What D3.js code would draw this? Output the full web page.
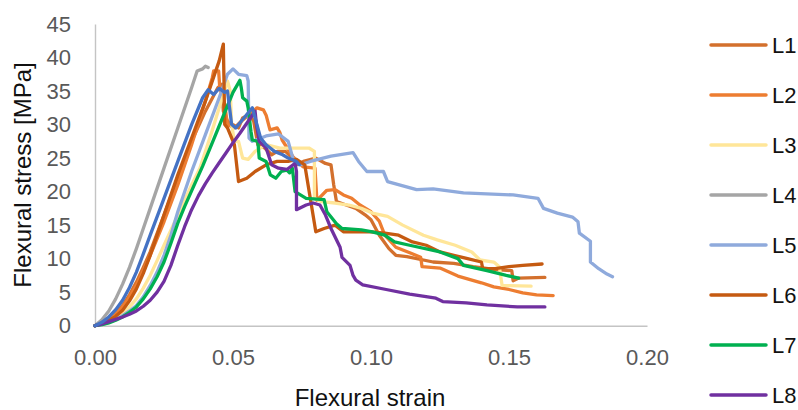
<!DOCTYPE html>
<html lang="en">
<head>
<meta charset="UTF-8">
<title>Flexural stress-strain</title>
<style>
  body { margin: 0; background: #fff; }
  svg { display: block; font-family: "Liberation Sans", Arial, sans-serif; }
  .tick text { fill: #595959; font-size: 22px; }
  .axis path.domain { stroke: #c4c4c4; stroke-width: 1.4; }
  .curve { fill: none; stroke-width: 3.3; stroke-linejoin: round; stroke-linecap: round; }
</style>
</head>
<body>
<div id="chart"></div>
<script src="https://d3js.org/d3.v7.min.js"></script>
<script>
// tick values
const strainTicks = [0, 0.05, 0.10, 0.15, 0.20];
const stressTicks = [0, 5, 10, 15, 20, 25, 30, 35, 40, 45];

// series [strain, stress MPa]
const L1 = [[0,0],[0.0025,0.3],[0.005,1],[0.0075,1.8],[0.01,3],[0.0125,4.6],[0.015,6.5],[0.0175,8.7],[0.02,11],[0.025,16.5],
  [0.03,22],[0.035,27.5],[0.04,32],[0.0445,35.5],[0.046,36],
  [0.0465,32],[0.048,30.5],[0.050,30],[0.052,29.5],[0.0535,31],[0.056,31.5],[0.0575,30.5],[0.059,27],[0.0615,26.5],[0.064,25.5],
  [0.066,26],[0.069,26],[0.0715,25],[0.073,24],[0.0755,24.5],[0.080,25],[0.0835,24.2],[0.0855,24],[0.0865,21],[0.0875,18.5],
  [0.091,18],[0.0945,17.5],[0.098,16.5],[0.1,15.8],[0.103,13.5],[0.1065,11.5],[0.109,10.5],[0.113,10.3],[0.1225,9.5],[0.13,9.3],
  [0.137,8.8],[0.1445,8.4],[0.148,8.3],[0.151,8.2],[0.1515,6.7],[0.1535,7.1],[0.163,7.2]];
const L2 = [[0,0],[0.0025,0.3],[0.005,0.9],[0.0075,1.7],[0.01,2.8],[0.0125,4.3],[0.015,6],[0.0175,8.2],[0.02,10.5],[0.025,15.5],
  [0.03,21],[0.035,27],[0.04,33.5],[0.0425,37],[0.043,38],
  [0.0448,38],[0.0452,35.5],[0.047,33],[0.048,30],[0.0505,29.5],[0.053,30.5],[0.056,31.5],[0.0587,32.5],[0.061,32.2],[0.062,31.4],
  [0.0634,29.2],[0.066,29.5],[0.067,28.8],[0.0678,27.7],[0.0717,25.2],[0.0754,23.7],[0.0797,23.5],[0.0804,18.7],[0.084,20.2],
  [0.087,20.3],[0.09,19.5],[0.093,19],[0.096,18],[0.1,17],[0.103,15.6],[0.105,13.5],[0.109,11.7],[0.1145,10.8],[0.118,10.2],
  [0.1185,8.8],[0.125,8.6],[0.1315,7.4],[0.14,6.4],[0.1445,5.8],[0.15,5.4],[0.155,4.9],[0.16,4.6],[0.166,4.5]];
const L3 = [[0,0],[0.0025,0.15],[0.005,0.5],[0.0075,1.1],[0.01,1.8],[0.0125,2.8],[0.015,4],[0.0175,5.6],[0.02,7.5],[0.0225,9.7],
  [0.025,12],[0.03,16.5],[0.035,21],[0.038,23.5],[0.042,28.5],[0.045,32.5],
  [0.048,36.5],[0.049,35],[0.0495,30],[0.0505,27.5],[0.052,27.5],[0.0535,25],[0.0555,24.8],[0.058,26],[0.062,27],[0.067,26.5],
  [0.072,26.5],[0.0775,26.5],[0.0795,26],[0.0795,19],[0.082,18.5],[0.087,18.3],[0.092,18],[0.0965,17.5],[0.1005,16.8],[0.106,16.3],
  [0.1115,15],[0.119,13.5],[0.124,12.8],[0.1305,12],[0.1365,11],[0.1395,9.8],[0.1445,9.5],[0.1465,8.8],[0.1475,6],[0.158,5.9]];
const L4 = [[0,0],[0.0025,0.9],[0.005,2.2],[0.0075,4],[0.01,6.2],[0.0125,8.7],[0.015,11.5],[0.0175,14.5],[0.02,17.5],[0.025,23.5],
  [0.03,29.5],[0.035,35.5],[0.037,38],[0.039,38.3],[0.040,38.7],[0.041,38.5]];
const L5 = [[0,0],[0.0025,0.15],[0.005,0.5],[0.0075,0.9],[0.01,1.5],[0.0125,2.2],[0.015,3],[0.0175,4.3],[0.02,6],[0.0225,8],
  [0.025,10.5],[0.0275,13.5],[0.03,17],[0.035,23],[0.04,28.5],[0.045,34],[0.048,37.5],
  [0.050,38.3],[0.052,37.5],[0.055,37.3],[0.0555,36.5],[0.0558,28],[0.057,27.5],[0.062,28.3],[0.0665,28.6],[0.070,27.5],[0.072,24.5],
  [0.0745,24],[0.078,24.5],[0.0855,25.3],[0.0935,25.8],[0.0955,24.5],[0.0985,23],[0.1045,23],[0.106,21.5],[0.1165,20.3],
  [0.1225,20.4],[0.1335,19.8],[0.1515,19.5],[0.1605,19],[0.1625,17.5],[0.1675,16.8],[0.173,16.2],[0.175,15.5],[0.1755,13.8],
  [0.1795,12.6],[0.1795,9.5],[0.1825,8.5],[0.1855,7.7],[0.1875,7.3]];
const L6 = [[0,0],[0.0025,0.3],[0.005,0.8],[0.0075,1.4],[0.01,2.3],[0.0125,3.7],[0.015,5.5],[0.0175,7.8],[0.02,10.5],[0.0225,13.5],
  [0.025,16.5],[0.03,22.5],[0.035,28],[0.04,33.5],[0.045,39.5],
  [0.0465,42],[0.047,30],[0.048,29.5],[0.0505,27],[0.052,21.5],[0.055,22],[0.058,23],[0.062,24],[0.066,24.5],[0.070,24.5],
  [0.073,24.8],[0.076,24],[0.078,19],[0.080,14],[0.083,14.5],[0.087,15],[0.09,14],[0.095,14],[0.1,14],[0.105,13.8],[0.11,13.5],
  [0.115,12.5],[0.12,12],[0.125,11],[0.13,10.5],[0.135,10],[0.14,9.5],[0.1405,8.5],[0.145,8.5],[0.15,8.8],[0.155,9],[0.162,9.2]];
const L7 = [[0,0],[0.0025,0.15],[0.005,0.4],[0.0075,0.8],[0.01,1.3],[0.0125,2],[0.015,2.8],[0.0175,4],[0.02,5.5],[0.0225,7.3],
  [0.025,9.5],[0.0275,12.3],[0.03,15.3],[0.0325,17.8],[0.035,20.1],[0.039,23.8],[0.043,27.8],[0.047,31.8],
  [0.050,34.8],[0.0525,36.6],[0.053,35.5],[0.0535,34],[0.055,33.5],[0.0555,32.5],[0.0565,29],[0.057,27.7],[0.059,27.5],[0.0595,25],
  [0.062,24.5],[0.0635,22.5],[0.0655,22],[0.0675,23],[0.0695,23.2],[0.0705,22.8],[0.0715,23.5],[0.0725,20],[0.0765,19],[0.083,18.8],
  [0.084,17],[0.0875,15.2],[0.0895,14.5],[0.0965,14.3],[0.1005,14],[0.105,13.5],[0.1085,12.5],[0.114,12],[0.125,11],[0.1315,10],
  [0.1335,9],[0.142,8.2],[0.149,7.5],[0.1535,7.1]];
const L8 = [[0,0],[0.0025,0.25],[0.005,0.6],[0.0075,0.95],[0.01,1.3],[0.0125,1.7],[0.015,2.2],[0.0175,2.9],[0.02,3.8],[0.0225,5],
  [0.025,6.6],[0.0275,9],[0.03,12],[0.0325,14.8],[0.035,17.3],[0.0375,19.4],[0.040,21.2],[0.0425,22.8],[0.045,24.3],[0.0475,25.8],
  [0.050,27.3],[0.0525,28.7],[0.055,30.2],[0.058,32],[0.0585,30],[0.0595,27.5],[0.062,26.5],[0.064,24],[0.0665,23.5],[0.0695,23.3],
  [0.0725,24.2],[0.073,23],[0.073,17.3],[0.0765,18],[0.079,18.3],[0.0815,18],[0.0835,16.5],[0.0855,14.5],[0.0888,11.7],[0.0895,10.2],
  [0.0924,9],[0.0935,7.5],[0.0945,6.8],[0.097,6.1],[0.1055,5.4],[0.114,4.7],[0.1235,4.1],[0.126,3.6],[0.1345,3.4],[0.142,3.1],
  [0.153,2.8],[0.163,2.8]];
// extra blue series, not listed in the legend
const blueRun = [[0,0],[0.0025,0.5],[0.005,1.3],[0.0075,2.4],[0.01,3.8],[0.0125,5.7],[0.015,8],[0.0175,10.7],[0.02,13.5],
  [0.025,19],[0.03,24.5],[0.035,30],[0.039,34],[0.041,35.2],
  [0.043,34.5],[0.045,35.4],[0.047,34.8],[0.048,35],[0.0495,30],[0.051,29.5],[0.053,30.5],[0.055,31.5],[0.057,32.5],[0.058,31],
  [0.060,28],[0.062,27],[0.065,26],[0.068,25.5],[0.070,25],[0.073,24.5],[0.074,24]];

const seriesNames = ["L1", "L2", "L3", "L4", "L5", "L6", "L7", "L8"];
const seriesData = [L1, L2, L3, L4, L5, L6, L7, L8];
const colors = ["#d3702d", "#ed7d31", "#ffe699", "#a5a5a5", "#8faadc", "#c55a11", "#00b050", "#7030a0"];

const width = 798, height = 410;

const svg = d3.select("#chart").append("svg")
  .attr("width", width)
  .attr("height", height);

const x = d3.scaleLinear().domain([0, 0.2]).range([95, 647]);
const y = d3.scaleLinear().domain([0, 45]).range([325.7, 24]);

svg.append("g")
  .attr("class", "axis")
  .attr("transform", `translate(0,${y(0)})`)
  .call(d3.axisBottom(x).tickValues(strainTicks).tickFormat(d3.format(".2f"))
    .tickSize(0).tickPadding(24));

svg.append("g")
  .attr("class", "axis")
  .attr("transform", `translate(${x(0)},0)`)
  .call(d3.axisLeft(y).tickValues(stressTicks).tickSize(0).tickPadding(24));

const line = d3.line().x(d => x(d[0])).y(d => y(d[1]));

const plot = svg.append("g");
seriesData.forEach((s, i) => {
  plot.append("path")
    .attr("class", "curve")
    .attr("stroke", colors[i])
    .attr("d", line(s));
});
plot.append("path")
  .attr("class", "curve")
  .attr("stroke", "#4472c4")
  .attr("d", line(blueRun));

// axis titles
svg.append("text")
  .attr("x", 370).attr("y", 406)
  .attr("text-anchor", "middle")
  .attr("font-size", 24)
  .attr("fill", "#111")
  .text("Flexural strain");

svg.append("text")
  .attr("transform", "translate(31,175) rotate(-90)")
  .attr("text-anchor", "middle")
  .attr("font-size", 24)
  .attr("fill", "#111")
  .text("Flexural stress [MPa]");

// legend
const legend = svg.append("g");
seriesNames.forEach((name, i) => {
  const ly = 45 + i * 50;
  legend.append("line")
    .attr("x1", 711).attr("x2", 766)
    .attr("y1", ly).attr("y2", ly)
    .attr("stroke", colors[i])
    .attr("stroke-width", 3.5)
    .attr("stroke-linecap", "round");
  legend.append("text")
    .attr("x", 772).attr("y", ly)
    .attr("dy", "0.36em")
    .attr("font-size", 22)
    .attr("fill", "#111")
    .text(name);
});
</script>
</body>
</html>
